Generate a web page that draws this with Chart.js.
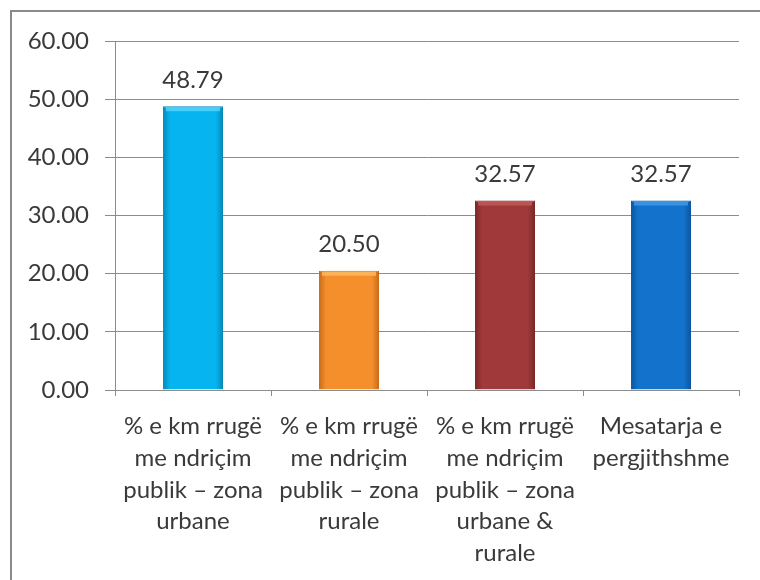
<!DOCTYPE html>
<html>
<head>
<meta charset="utf-8">
<script src="https://cdn.jsdelivr.net/npm/chart.js@4/dist/chart.umd.min.js"></script>
<style>
  html, body { margin: 0; padding: 0; background: #ffffff; }
  #wrap { position: relative; width: 760px; height: 580px; overflow: hidden; }
  #frame { position: absolute; left: 10px; top: 10px; width: 760px; height: 580px;
           border-left: 2px solid #8a8a8a; border-top: 2px solid #8a8a8a; box-sizing: border-box; }
  canvas { position: absolute; left: 0; top: 0; }
</style>
</head>
<body>
<div id="wrap">
  <div id="frame"></div>
  <canvas id="c" width="760" height="580"></canvas>
</div>
<script>
const categories = [
  ["% e km rrugë", "me ndriçim", "publik – zona", "urbane"],
  ["% e km rrugë", "me ndriçim", "publik – zona", "rurale"],
  ["% e km rrugë", "me ndriçim", "publik – zona", "urbane &", "rurale"],
  ["Mesatarja e", "pergjithshme"]
];
const values = [48.79, 20.50, 32.57, 32.57];
const valueLabels = ["48.79", "20.50", "32.57", "32.57"];
const barColors = ["#06B4EF", "#F58F2C", "#A0393A", "#1372CB"];
const barLights = ["#4FD3FA", "#FBB860", "#BE5A58", "#3F98E6"];
const barEdges = ["#0789B8", "#C86B18", "#7A2727", "#0C55A0"];
const yTicks = [0, 10, 20, 30, 40, 50, 60];

const FONT = "Lato, 'Open Sans', sans-serif";

function barFill(context) {
  const chart = context.chart;
  const i = context.dataIndex;
  const xs = chart.scales && chart.scales.x;
  if (!chart.chartArea || !xs || i === undefined) return barColors[i] || barColors[0];
  const cx = xs.getPixelForValue(i);
  const half = 30;
  const g = chart.ctx.createLinearGradient(cx - half, 0, cx + half, 0);
  g.addColorStop(0, barEdges[i]);
  g.addColorStop(0.12, barColors[i]);
  g.addColorStop(0.5, barColors[i]);
  g.addColorStop(0.88, barColors[i]);
  g.addColorStop(1, barEdges[i]);
  return g;
}

const valueLabelPlugin = {
  id: 'valueLabels',
  afterDatasetsDraw(chart) {
    const ctx = chart.ctx;
    const meta = chart.getDatasetMeta(0);
    ctx.save();
    meta.data.forEach((bar, i) => {
      const w = bar.width;
      ctx.fillStyle = barLights[i];
      ctx.globalAlpha = 0.85;
      ctx.fillRect(bar.x - w / 2 + 3, bar.y + 1, w - 6, 4);
    });
    ctx.globalAlpha = 1;
    ctx.font = "24px " + FONT;
    ctx.fillStyle = "#3a3a3a";
    ctx.textAlign = "center";
    ctx.textBaseline = "middle";
    meta.data.forEach((bar, i) => {
      ctx.fillText(valueLabels[i], bar.x, bar.y - 26);
    });
    ctx.restore();
  }
};

new Chart(document.getElementById('c'), {
  type: 'bar',
  data: {
    labels: categories,
    datasets: [{
      data: values,
      backgroundColor: barFill,
      borderColor: barEdges,
      borderWidth: 1,
      categoryPercentage: 0.77,
      barPercentage: 0.5
    }]
  },
  options: {
    responsive: false,
    animation: false,
    devicePixelRatio: 1,
    layout: { padding: { top: 41, right: 21, left: 0, bottom: 0 } },
    plugins: { legend: { display: false }, tooltip: { enabled: false } },
    scales: {
      y: {
        min: 0, max: 60,
        afterFit(scale) { scale.width = 115; },
        afterBuildTicks(scale) { scale.ticks = yTicks.map(v => ({ value: v })); },
        ticks: {
          padding: 16,
          color: "#3a3a3a",
          font: { family: FONT, size: 24 },
          callback: (v) => Number(v).toFixed(2)
        },
        grid: { color: "#8c8c8c", lineWidth: 1, tickLength: 10 },
        border: { display: true, color: "#8c8c8c" }
      },
      x: {
        afterFit(scale) { scale.height = 190; },
        ticks: {
          padding: 14,
          color: "#3a3a3a",
          maxRotation: 0,
          autoSkip: false,
          font: { family: FONT, size: 24, lineHeight: 1.33 }
        },
        grid: { drawOnChartArea: false, color: "#8c8c8c", tickLength: 6, offset: true },
        border: { display: true, color: "#8c8c8c" }
      }
    }
  },
  plugins: [valueLabelPlugin]
});
</script>
</body>
</html>
